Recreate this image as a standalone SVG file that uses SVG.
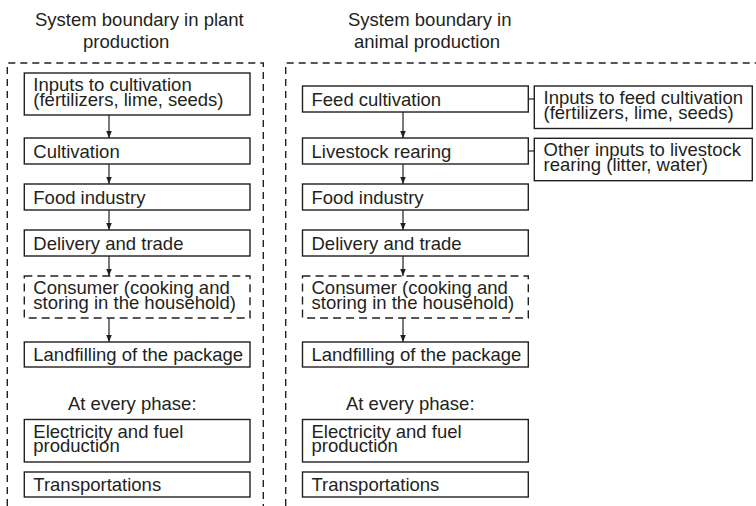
<svg xmlns="http://www.w3.org/2000/svg" width="756" height="506" viewBox="0 0 756 506">
<defs>
<style>
text{font-family:"Liberation Sans",Arial,sans-serif;font-size:18.5px;fill:#231f20}
.box{fill:#fff;stroke:#231f20;stroke-width:1.4}
.dbox{fill:#fff;stroke:#231f20;stroke-width:1.4;stroke-dasharray:8,5}
.bound{fill:none;stroke:#231f20;stroke-width:1.4;stroke-dasharray:7,5}
.arr{stroke:#231f20;stroke-width:1.2;fill:none;marker-end:url(#ah)}
</style>
<marker id="ah" markerUnits="userSpaceOnUse" markerWidth="8" markerHeight="6" refX="7" refY="2.75" orient="auto">
<path d="M0,0 L7,2.75 L0,5.5 z" fill="#231f20"/>
</marker>
</defs>

<g id="titles">
<text x="35" y="26">System boundary in plant</text>
<text x="83" y="48">production</text>
<text x="348" y="26">System boundary in</text>
<text x="354" y="48">animal production</text>
</g>

<g id="boundaries">
<path class="bound" d="M7.3,506 V63 H263.3 V506"/>
<path class="bound" d="M285.7,506 V63 H756"/>
</g>

<g id="connectors">
<line class="arr" x1="109" y1="115" x2="109" y2="138"/>
<line class="arr" x1="109" y1="164" x2="109" y2="184"/>
<line class="arr" x1="109" y1="210" x2="109" y2="230"/>
<line class="arr" x1="109" y1="256" x2="109" y2="276"/>
<line class="arr" x1="109" y1="318" x2="109" y2="342"/>
<line class="arr" x1="403" y1="112" x2="403" y2="138"/>
<line class="arr" x1="403" y1="164" x2="403" y2="184"/>
<line class="arr" x1="403" y1="210" x2="403" y2="230"/>
<line class="arr" x1="403" y1="256" x2="403" y2="276"/>
<line class="arr" x1="403" y1="318" x2="403" y2="342"/>
<line class="arr" x1="534" y1="99" x2="507" y2="99"/>
<line class="arr" x1="534" y1="151" x2="507" y2="151"/>
</g>

<g id="p-inputs">
<rect class="box" x="24.3" y="73" width="225.7" height="42"/>
<text x="33.3" y="91">Inputs to cultivation</text>
<text x="33.3" y="106">(fertilizers, lime, seeds)</text>
</g>
<g id="p-cultivation">
<rect class="box" x="24.3" y="138" width="225.7" height="26"/>
<text x="33.3" y="157.5">Cultivation</text>
</g>
<g id="p-food">
<rect class="box" x="24.3" y="184" width="225.7" height="26"/>
<text x="33.3" y="203.5">Food industry</text>
</g>
<g id="p-delivery">
<rect class="box" x="24.3" y="230" width="225.7" height="26"/>
<text x="33.3" y="249.5">Delivery and trade</text>
</g>
<g id="p-consumer">
<rect class="dbox" x="24.3" y="276" width="225.7" height="42"/>
<text x="33.3" y="294">Consumer (cooking and</text>
<text x="33.3" y="309">storing in the household)</text>
</g>
<g id="p-landfill">
<rect class="box" x="24.3" y="342" width="225.7" height="25"/>
<text x="33.3" y="361">Landfilling of the package</text>
</g>
<g id="p-every">
<text x="68" y="410">At every phase:</text>
</g>
<g id="p-electricity">
<rect class="box" x="24.3" y="419.5" width="225.7" height="42.5"/>
<text x="33.3" y="437.5">Electricity and fuel</text>
<text x="33.3" y="452">production</text>
</g>
<g id="p-transport">
<rect class="box" x="24.3" y="472" width="225.7" height="25"/>
<text x="33.3" y="490.5">Transportations</text>
</g>

<g id="a-feed">
<rect class="box" x="302.5" y="86" width="225.8" height="26"/>
<text x="311.5" y="105.5">Feed cultivation</text>
</g>
<g id="a-livestock">
<rect class="box" x="302.5" y="138" width="225.8" height="26"/>
<text x="311.5" y="157.5">Livestock rearing</text>
</g>
<g id="a-food">
<rect class="box" x="302.5" y="184" width="225.8" height="26"/>
<text x="311.5" y="203.5">Food industry</text>
</g>
<g id="a-delivery">
<rect class="box" x="302.5" y="230" width="225.8" height="26"/>
<text x="311.5" y="249.5">Delivery and trade</text>
</g>
<g id="a-consumer">
<rect class="dbox" x="302.5" y="276" width="225.8" height="42"/>
<text x="311.5" y="294">Consumer (cooking and</text>
<text x="311.5" y="309">storing in the household)</text>
</g>
<g id="a-landfill">
<rect class="box" x="302.5" y="342" width="225.8" height="25"/>
<text x="311.5" y="361">Landfilling of the package</text>
</g>
<g id="a-every">
<text x="346" y="410">At every phase:</text>
</g>
<g id="a-electricity">
<rect class="box" x="302.5" y="419.5" width="225.8" height="42.5"/>
<text x="311.5" y="437.5">Electricity and fuel</text>
<text x="311.5" y="452">production</text>
</g>
<g id="a-transport">
<rect class="box" x="302.5" y="472" width="225.8" height="25"/>
<text x="311.5" y="490.5">Transportations</text>
</g>

<g id="a-feed-inputs">
<rect class="box" x="534.3" y="86" width="218" height="42.5"/>
<text x="543.5" y="104">Inputs to feed cultivation</text>
<text x="543.5" y="119">(fertilizers, lime, seeds)</text>
</g>
<g id="a-other-inputs">
<rect class="box" x="534.3" y="138.3" width="218" height="42.4"/>
<text x="543.5" y="156.3">Other inputs to livestock</text>
<text x="543.5" y="171.3">rearing (litter, water)</text>
</g>
</svg>
